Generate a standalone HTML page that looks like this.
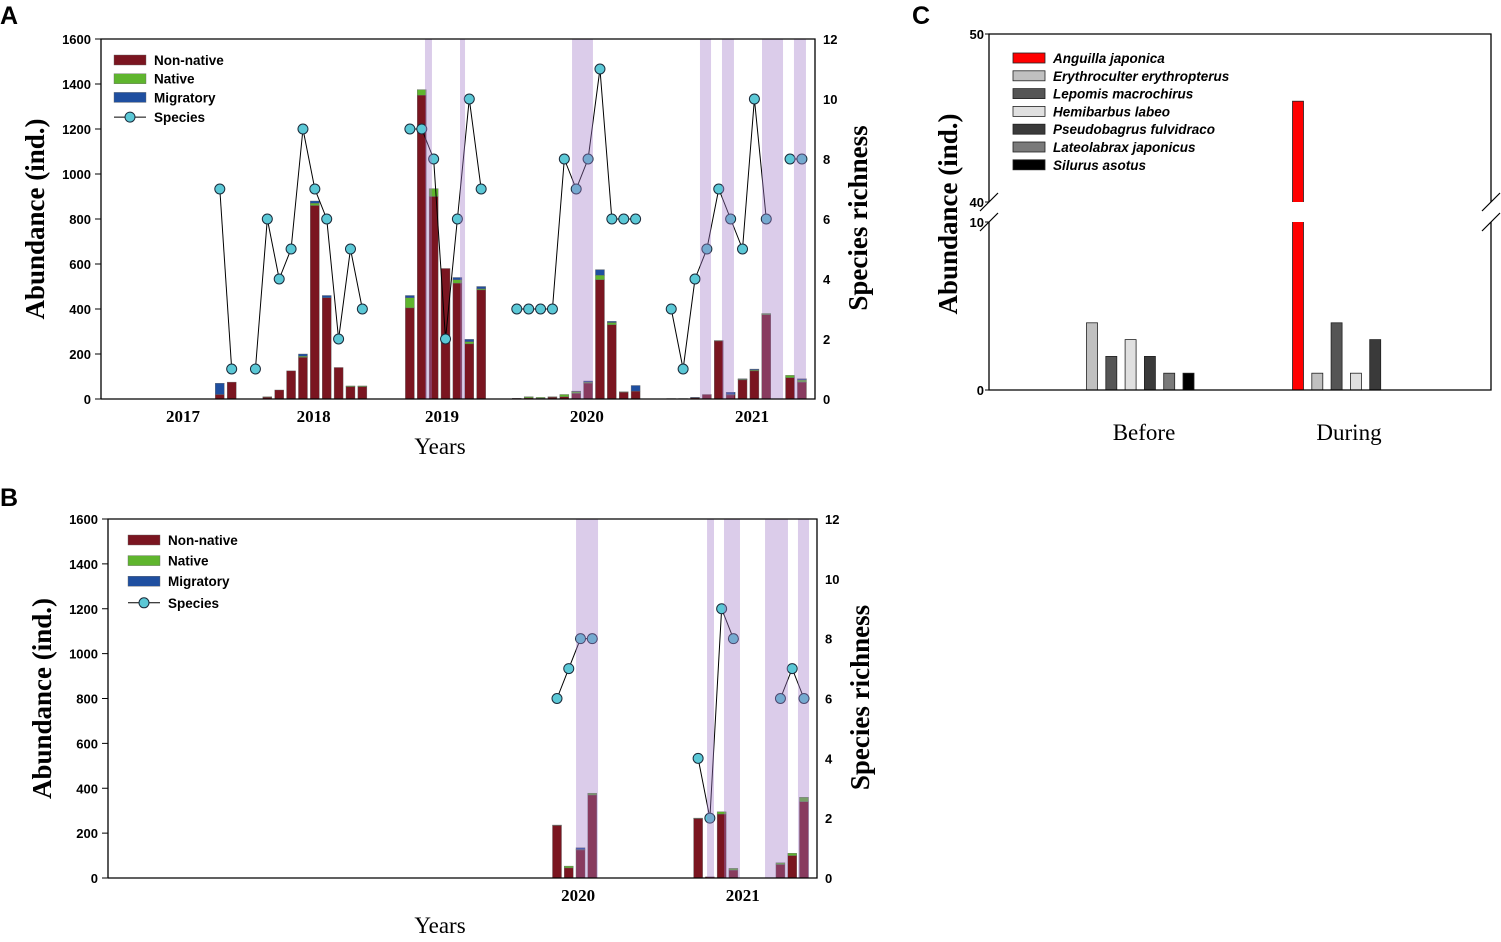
<!DOCTYPE html>
<html><head><meta charset="utf-8"><style>
html,body{margin:0;padding:0;background:#fff;}
svg{display:block;}
.tick{font-family:"Liberation Sans",sans-serif;font-weight:bold;font-size:13px;fill:#000;}
.yr{font-family:"Liberation Serif",serif;font-weight:bold;font-size:17px;fill:#000;}
.ttl{font-family:"Liberation Serif",serif;font-weight:bold;font-size:27px;fill:#000;}
.xt{font-family:"Liberation Serif",serif;font-size:23px;fill:#000;}
.leg{font-family:"Liberation Sans",sans-serif;font-weight:bold;font-size:13.5px;fill:#000;}
.legi{font-family:"Liberation Sans",sans-serif;font-weight:bold;font-style:italic;font-size:13.5px;fill:#000;}
.pl{font-family:"Liberation Sans",sans-serif;font-weight:bold;font-size:25px;fill:#000;}
</style></head><body>
<svg id="fig" width="1501" height="942" viewBox="0 0 1501 942" xmlns="http://www.w3.org/2000/svg">
<text class="pl" x="0" y="24">A</text>
<text class="pl" x="0" y="506">B</text>
<text class="pl" x="912" y="24">C</text>
<g id="gA"></g>
<g id="gB"></g>
<g id="gC"></g>
</svg>
<script>
// ---------- Panel A data ----------
const aSlots      = [10,11,14,15,16,17,18,19,20,21,22,26,27,28,29,30,31,32,35,36,37,38,39,40,41,42,43,44,45,48,49,50,51,52,53,54,55,56,58,59];
const aNonNative  = [20,75,8,40,125,185,860,450,140,55,55,405,1350,900,580,515,245,485,3,5,3,8,10,25,70,530,330,30,35,2,2,5,20,258,18,85,125,375,95,75];
const aNative     = [0,0,2,0,0,5,10,0,0,3,3,45,25,35,0,15,10,5,0,5,4,2,10,8,5,20,10,2,0,0,0,0,0,2,2,3,4,5,10,10];
const aMigratory  = [50,0,0,0,0,10,10,10,0,0,0,10,0,0,0,10,10,10,0,0,0,0,0,2,5,25,5,0,25,0,0,3,0,0,10,2,4,0,0,5];
const aSpecSlots  = [10,11,13,14,15,16,17,18,19,20,21,22,26,27,28,29,30,31,32,35,36,37,38,39,40,41,42,43,44,45,48,49,50,51,52,53,54,55,56,58,59];
const aSpecies    = [7,1,1,6,4,5,9,7,6,2,5,3,9,9,8,2,6,10,7,3,3,3,3,8,7,8,11,6,6,6,3,1,4,5,7,6,5,10,6,8,8];
const aSegments   = [[10,11],[13,22],[26,32],[35,45],[48,56],[58,59]];
const aShades     = [[27.27,27.86],[30.22,30.64],[39.65,41.41],[50.42,51.35],[52.27,53.28],[55.64,57.41],[58.33,59.34]];
const aYears      = ["2017","2018","2019","2020","2021"];
const aYearSlots  = [6.9,17.9,28.7,40.9,54.8];
// ---------- Panel B data ----------
const bSlots      = [0,1,2,3,12,13,14,15,19,20,21];
const bNonNative  = [234,45,125,370,265,5,285,35,60,100,340];
const bNative     = [2,8,2,8,2,0,10,8,8,10,20];
const bMigratory  = [0,0,8,0,0,0,0,0,0,0,0];
const bSpecies    = [6,7,8,8,4,2,9,8,6,7,6];
const bSegments   = [[0,3],[12,15],[19,21]];
const bShades     = [[1.62,3.49],[12.76,13.35],[14.2,15.56],[17.69,19.64],[20.49,21.43]];
const bYears      = ["2020","2021"];
const bYearSlots  = [1.8,15.8];
const abTicks     = [0,200,400,600,800,1000,1200,1400,1600];
const spTicks     = [0,2,4,6,8,10,12];
// ---------- Panel C data ----------
const cSpecies    = ["Anguilla japonica","Erythroculter erythropterus","Lepomis macrochirus","Hemibarbus labeo","Pseudobagrus fulvidraco","Lateolabrax japonicus","Silurus asotus"];
const cColors     = ["#ff0000","#c0c0c0","#555555","#e0e0e0","#3a3a3a","#7a7a7a","#000000"];
const cBefore     = [0,4,2,3,2,1,1];
const cDuring     = [46,1,4,1,3,0,0];
const cGroups     = ["Before","During"];

const NS="http://www.w3.org/2000/svg";
function mk(parent,tag,attrs,text){const e=document.createElementNS(NS,tag);for(const k in attrs)e.setAttribute(k,attrs[k]);if(text!==undefined)e.textContent=text;parent.appendChild(e);return e;}

function panel(g,cfg){
  const yA=v=>cfg.y0-(v/1600)*(cfg.y0-cfg.y1);
  const yS=v=>cfg.y0-(v/12)*(cfg.y0-cfg.y1);
  const x=i=>cfg.x0+i*cfg.w;
  cfg.slots.forEach((s,k)=>{
    const cx=x(s),bw=9;
    let base=0;
    [[cfg.non[k],"#7a1520","non-native"],[cfg.nat[k],"#5fb52e","native"],[cfg.mig[k],"#1f4fa0","migratory"]].forEach(([v,c,n])=>{
      if(!(v>0))return;
      const r=mk(g,"rect",{x:cx-bw/2,y:yA(base+v),width:bw,height:yA(base)-yA(base+v),fill:c,stroke:"#666","stroke-width":0.4});
      
      
      base+=v;
    });
  });
  cfg.segs.forEach(([a,b])=>{
    const pts=[];cfg.sslots.forEach((s,k)=>{if(s>=a&&s<=b)pts.push(x(s)+","+yS(cfg.sp[k]));});
    const p=mk(g,"polyline",{points:pts.join(" "),fill:"none",stroke:"#000","stroke-width":1});
    
    
  });
  cfg.sslots.forEach((s,k)=>{
    const c=mk(g,"circle",{cx:x(s),cy:yS(cfg.sp[k]),r:5,fill:"#5bc8d6",stroke:"#1a2a3a","stroke-width":1});
    
    
  });
  cfg.shades.forEach(([a,b])=>{
    const r=mk(g,"rect",{x:x(a),y:cfg.y1,width:x(b)-x(a),height:cfg.y0-cfg.y1,fill:"rgb(160,120,200)","fill-opacity":0.38});
    
    
  });
  const f=mk(g,"path",{d:`M${cfg.xl},${cfg.y0}V${cfg.y1}H${cfg.xr}V${cfg.y0}H${cfg.xl}`,fill:"none",stroke:"#000","stroke-width":1.3});
  
  
  abTicks.forEach(t=>{
    mk(g,"line",{x1:cfg.xl-6,x2:cfg.xl,y1:yA(t),y2:yA(t),stroke:"#000"});
    const l=mk(g,"text",{class:"tick",x:cfg.xl-10,y:yA(t)+5,"text-anchor":"end"},String(t));
    
    
  });
  spTicks.forEach(t=>{
    const l=mk(g,"text",{class:"tick",x:cfg.xr+8,y:yS(t)+5},String(t));
    
    
  });
  cfg.years.forEach((yr,k)=>{
    const l=mk(g,"text",{class:"yr",x:x(cfg.yslots[k]),y:cfg.y0+23,"text-anchor":"middle"},yr);
    
    
  });
  const xt=mk(g,"text",{class:"xt",x:440,y:cfg.y0+55,"text-anchor":"middle"},"Years");
  
  
  const cy=(cfg.y0+cfg.y1)/2;
  const yt=mk(g,"text",{class:"ttl",x:0,y:0,"text-anchor":"middle",transform:`translate(${cfg.xl-57},${cy}) rotate(-90)`},"Abundance (ind.)");
  
  
  const y2=mk(g,"text",{class:"ttl",x:0,y:0,"text-anchor":"middle",transform:`translate(${cfg.xr+52},${cy-1}) rotate(-90)`},"Species richness");
  
  
  const L=cfg.leg;
  [["#7a1520","Non-native"],["#5fb52e","Native"],["#1f4fa0","Migratory"]].forEach(([c,t],k)=>{
    const yy=L.y+k*L.dy;
    const r=mk(g,"rect",{x:L.x,y:yy-5,width:32,height:10,fill:c,stroke:"#666","stroke-width":0.4});
    
    
    const l=mk(g,"text",{class:"leg",x:L.x+40,y:yy+5},t);
    
    
  });
  const yy=L.y+3*L.dy+1;
  mk(g,"line",{x1:L.x,x2:L.x+32,y1:yy,y2:yy,stroke:"#000"});
  mk(g,"circle",{cx:L.x+16,cy:yy,r:5,fill:"#5bc8d6",stroke:"#1a2a3a"});
  const l=mk(g,"text",{class:"leg",x:L.x+40,y:yy+5},"Species");
  
  
}

panel(document.getElementById("gA"),{x0:101,w:11.88,xl:101,xr:815,y0:399,y1:39,slots:aSlots,non:aNonNative,nat:aNative,mig:aMigratory,sslots:aSpecSlots,sp:aSpecies,segs:aSegments,shades:aShades,years:aYears,yslots:aYearSlots,leg:{x:114,y:60,dy:18.7}});
panel(document.getElementById("gB"),{x0:557,w:11.76,xl:108,xr:817,y0:878,y1:519,slots:bSlots,non:bNonNative,nat:bNative,mig:bMigratory,sslots:bSlots,sp:bSpecies,segs:bSegments,shades:bShades,years:bYears,yslots:bYearSlots,leg:{x:128,y:540,dy:20.6}});

(function(){
  const g=document.getElementById("gC");
  const xl=989,xr=1491,y0=390,yb1=222,yb2=202,ytop=34;
  const k=(y0-yb1)/10;
  const y=v=>v<=10?y0-v*k:yb2-(v-40)*k;
  const groupX=[1092,1298],bw=11,step=19.3;
  [cBefore,cDuring].forEach((vals,gi)=>{
    let n=0;
    vals.forEach((v,si)=>{
      if(v<=0)return;
      const cx=groupX[gi]+n*step; n++;
      const r=mk(g,"rect",{x:cx-bw/2,y:y(v),width:bw,height:y0-y(v),fill:cColors[si],stroke:"#222","stroke-width":0.8});
      
      
      if(v>10){const gap=mk(g,"rect",{x:cx-bw/2-1,y:yb2,width:bw+2,height:yb1-yb2,fill:"#fff"});
        
        }
    });
  });
  const f=mk(g,"path",{d:`M${xl},${yb2}V${ytop}H${xr}V${yb2}M${xr},${yb1}V${y0}H${xl}V${yb1}`,fill:"none",stroke:"#000","stroke-width":1.3});
  
  
  [[xl,yb2],[xl,yb1],[xr,yb2],[xr,yb1]].forEach(([px,py])=>{
    const b=mk(g,"line",{x1:px-9,y1:py+9,x2:px+9,y2:py-9,stroke:"#000","stroke-width":1.2});
    
    
  });
  [[50,ytop],[40,yb2],[10,yb1],[0,y0]].forEach(([t,py])=>{
    mk(g,"line",{x1:xl-4,x2:xl,y1:py,y2:py,stroke:"#000"});
    const l=mk(g,"text",{class:"tick",x:xl-5,y:py+5,"text-anchor":"end"},String(t));
    
    
  });
  cGroups.forEach((t,gi)=>{
    const l=mk(g,"text",{class:"xt",x:[1144,1349][gi],y:440,"text-anchor":"middle"},t);
    
    
  });
  const yt=mk(g,"text",{class:"ttl",x:0,y:0,"text-anchor":"middle",transform:"translate(957,214) rotate(-90)"},"Abundance (ind.)");
  
  
  cSpecies.forEach((s,i)=>{
    const yy=58+i*17.8;
    const r=mk(g,"rect",{x:1013,y:yy-5,width:32,height:10,fill:cColors[i],stroke:"#222","stroke-width":0.8});
    
    
    const l=mk(g,"text",{class:"legi",x:1053,y:yy+5},s);
    
    
  });
})();
</script>
</body></html>
